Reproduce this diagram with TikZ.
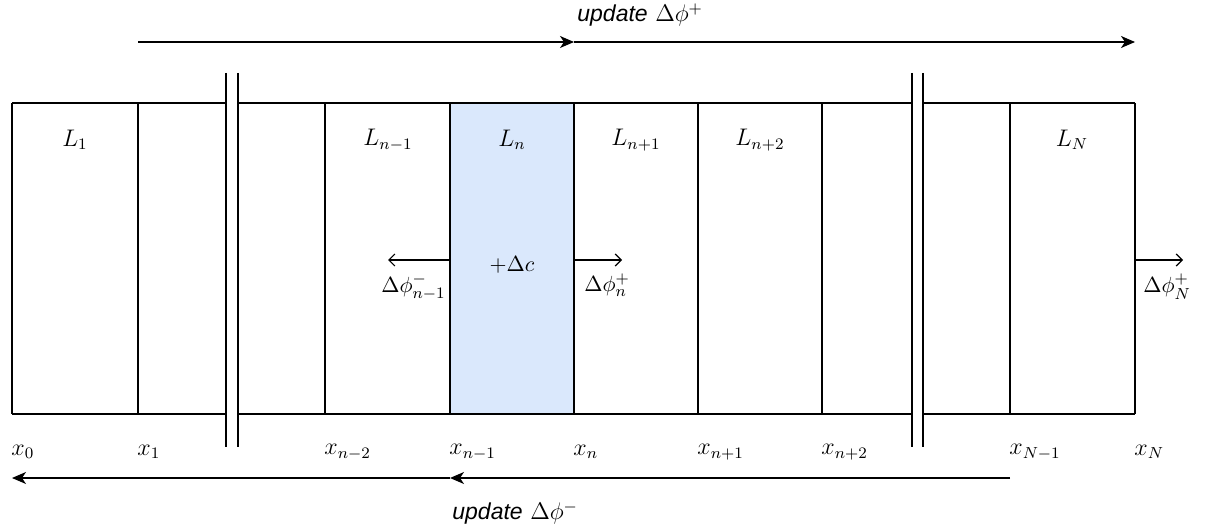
\documentclass[tikz,border=0pt]{standalone}
\usepackage{amsmath}
\usepackage{fontspec}
\setsansfont{Liberation Sans}
\usetikzlibrary{arrows.meta,positioning}

\begin{document}
\begin{tikzpicture}[x=0.5pt,y=-0.5pt,
            wall/.style={line width=1.3pt},
            gap/.style={line width=0.7pt},
            sweep/.style={line width=0.7pt, -{Stealth[length=7pt,width=6pt,inset=2pt]}},
            flux/.style={line width=0.6pt, -{Straight Barb[length=3pt,width=6pt]}},
            lab/.style={inner sep=1pt, font=\fontsize{12}{14}\selectfont},
            small/.style={inner sep=1pt, font=\fontsize{11}{13}\selectfont},
            sweeplab/.style={inner sep=1pt, font=\fontsize{11.5}{13}\selectfont}
        ]
        \useasboundingbox (0,0) rectangle (1205,529);
        \fill[fill={rgb,255:red,218;green,232;blue,252}] (450,103) rectangle (574,414);
        % top and bottom edges, cut at the two breaks
        \draw[wall] (12,103) -- (226,103) (238,103) -- (912,103) (923,103) -- (1135,103);
        \draw[wall] (12,414) -- (226,414) (238,414) -- (912,414) (923,414) -- (1135,414);
        \foreach \x/\name in {12/0, 138/1, 325/n-2, 450/n-1, 574/n, 698/n+1, 822/n+2, 1010/N-1, 1135/N} {
            \draw[wall] (\x,103) -- (\x,414);
            \node[lab, anchor=west] (x\x) at (\x-3,452) {$x_{\name}$};
        }
        \foreach \x in {226, 238, 912, 923}
            \draw[gap] (\x,73) -- (\x,447);
        \node[lab] (L1) at (75,140) {$L_1$};
        \node[lab] (Lnm) at (388,140) {$L_{n-1}$};
        \node[lab] (Ln) at (512,140) {$L_n$};
        \node[lab] (Lnp) at (636,140) {$L_{n+1}$};
        \node[lab] (Lnpp) at (760,140) {$L_{n+2}$};
        \node[lab] (LN) at (1072,140) {$L_N$};
        \node[small] (dc) at (512,265) {$+\Delta c$};
        \coordinate (fl0) at (450,260);
        \coordinate (fl1) at (388,260);
        \coordinate (fr0) at (574,260);
        \coordinate (fr1) at (622,260);
        \coordinate (fN0) at (1135,260);
        \coordinate (fN1) at (1183,260);
        \draw[flux] (fl0) -- (fl1);
        \draw[flux] (fr0) -- (fr1);
        \draw[flux] (fN0) -- (fN1);
        \node[small, anchor=east] (pm) at (448,287) {$\Delta\phi^-_{n-1}$};
        \node[small, anchor=west] (pp) at (582,285) {$\Delta\phi^+_n$};
        \node[small, anchor=west] (pN) at (1141,287) {$\Delta\phi^+_N$};
        % sweep directions
        \coordinate (t0) at (138,42);
        \coordinate (tm) at (574,42);
        \coordinate (t1) at (1135,42);
        \draw[sweep] (t0) -- (tm);
        \draw[sweep] (tm) -- (t1);
        \node[sweeplab, anchor=west] (up) at (575,15) {\textsf{\itshape update} $\Delta\phi^+$};
        \coordinate (b0) at (1010,478);
        \coordinate (bm) at (450,478);
        \coordinate (b1) at (12,478);
        \draw[sweep] (b0) -- (bm);
        \draw[sweep] (bm) -- (b1);
        \node[sweeplab, anchor=west] (down) at (450,513) {\textsf{\itshape update} $\Delta\phi^-$};
    \end{tikzpicture}
\end{document}
